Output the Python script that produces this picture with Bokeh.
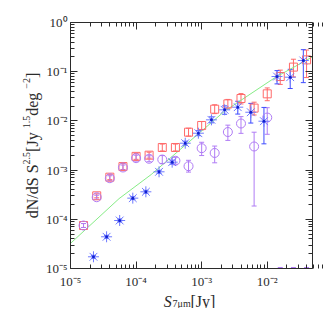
import math
import numpy as np
from bokeh.plotting import figure
from bokeh.models import (LogAxis, FixedTicker, CustomJSTickFormatter, Whisker, TeeHead,
                          ColumnDataSource, Label, Range1d)
from bokeh.embed import file_html
from bokeh.resources import INLINE

# ---------------- data ----------------
red_flux = [1.58e-5, 2.51e-5, 3.98e-5, 6.31e-5, 1.0e-4, 1.58e-4, 2.51e-4, 3.98e-4, 6.31e-4,
            1.0e-3, 1.58e-3, 2.51e-3, 3.98e-3, 6.31e-3, 1.0e-2, 1.58e-2, 2.51e-2, 3.98e-2]
red_val = [7.48e-5, 3.0e-4, 7.18e-4, 1.18e-3, 1.9e-3, 2.01e-3, 2.88e-3, 2.88e-3, 5.9e-3,
           8.07e-3, 1.73e-2, 2.22e-2, 2.85e-2, 1.82e-2, 3.55e-2, 7.98e-2, 0.124, 0.174]
red_up_dex = [0.04, 0.04, 0.05, 0.06, 0.06, 0.06, 0.07, 0.07, 0.08,
              0.08, 0.09, 0.09, 0.10, 0.12, 0.12, 0.13, 0.16, 0.20]
red_dn_dex = [0.04, 0.04, 0.05, 0.06, 0.06, 0.06, 0.07, 0.07, 0.08,
              0.09, 0.09, 0.10, 0.11, 0.14, 0.14, 0.16, 0.20, 0.36]

pur_flux = [1.58e-5, 2.51e-5, 3.98e-5, 6.31e-5, 1.0e-4, 1.58e-4, 2.51e-4, 3.98e-4, 6.31e-4,
            1.0e-3, 1.58e-3, 2.51e-3, 3.98e-3, 6.31e-3, 1.0e-2]
pur_val = [7.48e-5, 2.81e-4, 6.84e-4, 1.13e-3, 1.75e-3, 1.70e-3, 1.64e-3, 1.55e-3, 1.20e-3,
           2.79e-3, 2.23e-3, 5.94e-3, 8.85e-3, 3.02e-3, 1.17e-2]
pur_up_dex = [0.04, 0.04, 0.05, 0.05, 0.06, 0.06, 0.08, 0.07, 0.12,
              0.12, 0.14, 0.14, 0.14, 0.29, 0.20]
pur_dn_dex = [0.04, 0.04, 0.05, 0.05, 0.06, 0.06, 0.08, 0.07, 0.12,
              0.15, 0.20, 0.17, 0.20, 1.21, 0.34]
pur_floor_flux = [1.58e-2, 2.51e-2, 3.98e-2]
pur_floor_val = [1.03e-5, 1.03e-5, 1.03e-5]

blue_flux = [2.24e-5, 3.55e-5, 5.62e-5, 8.91e-5, 1.41e-4, 2.24e-4, 3.55e-4, 5.62e-4, 8.91e-4,
             1.41e-3, 2.24e-3, 3.55e-3, 5.62e-3, 8.91e-3, 1.41e-2, 2.24e-2, 3.55e-2]
blue_val = [1.73e-5, 4.41e-5, 9.46e-5, 2.69e-4, 3.62e-4, 9.23e-4, 1.45e-3, 3.52e-3, 5.62e-3,
            1.05e-2, 1.68e-2, 1.90e-2, 1.50e-2, 9.86e-3, 7.98e-2, 7.73e-2, 0.169]
blue_up_dex = [0.03, 0.03, 0.03, 0.03, 0.03, 0.03, 0.04, 0.04, 0.05,
               0.06, 0.08, 0.12, 0.18, 0.28, 0.12, 0.16, 0.22]
blue_dn_dex = [0.03, 0.03, 0.03, 0.03, 0.03, 0.03, 0.04, 0.04, 0.05,
               0.06, 0.09, 0.14, 0.22, 0.46, 0.15, 0.23, 0.45]

model_flux = [1.0e-5, 5.5e-5, 1.7e-4, 2.24e-3, 1.35e-2, 4.9e-2]
model_val = [3.24e-5, 2.63e-4, 8.13e-4, 1.58e-2, 7.76e-2, 0.20]

x_tick_major = [1e-5, 1e-4, 1e-3, 1e-2, 1e-1]
y_tick_major = [1e-5, 1e-4, 1e-3, 1e-2, 1e-1, 1e0]
XMIN, XMAX = 1e-5, 0.049
YMIN, YMAX = 1e-5, 1.0

RED = "#ff6a6a"
PUR = "#b07cf5"
BLUE = "#3f4cff"
GREEN = "#86ec86"
INK = "#2b2b2b"

# ---------------- geometry: the frame fills the canvas, the axes box sits inside ----------------
W, H = 324, 308
BOX_L, BOX_R, BOX_T, BOX_B = 70, 312, 22, 268
xpd = (BOX_R - BOX_L) / (math.log10(XMAX) - math.log10(XMIN))
ypd = (BOX_B - BOX_T) / (math.log10(YMAX) - math.log10(YMIN))
x_range = Range1d(10 ** (math.log10(XMIN) - BOX_L / xpd), 10 ** (math.log10(XMAX) + (W - BOX_R) / xpd))
y_range = Range1d(10 ** (math.log10(YMIN) - (H - BOX_B) / ypd), 10 ** (math.log10(YMAX) + BOX_T / ypd))

p = figure(frame_width=W, frame_height=H, x_axis_type="log", y_axis_type="log",
           x_range=x_range, y_range=y_range,
           output_backend="svg", toolbar_location=None,
           min_border_left=0, min_border_right=0, min_border_top=0, min_border_bottom=0)
p.grid.visible = False
p.outline_line_color = None
p.background_fill_color = "white"
p.border_fill_color = "white"

def minors(majors):
    return [k * m for m in majors[:-1] for k in range(2, 10)]

sup_fmt = CustomJSTickFormatter(code="""
const sup = {'-':'\u207b','0':'\u2070','1':'\u00b9','2':'\u00b2','3':'\u00b3','4':'\u2074',
             '5':'\u2075','6':'\u2076','7':'\u2077','8':'\u2078','9':'\u2079'};
const e = Math.round(Math.log10(tick));
return '10' + String(e).split('').map(c => sup[c]).join('');
""")
blank_fmt = CustomJSTickFormatter(code="return '';")

def style_axis(ax, majors, labels, bounds, loc):
    ax.ticker = FixedTicker(ticks=majors, minor_ticks=minors(majors))
    ax.bounds = bounds
    ax.fixed_location = loc
    ax.major_tick_in = 7
    ax.major_tick_out = 0
    ax.minor_tick_in = 4
    ax.minor_tick_out = 0
    ax.axis_line_color = INK
    ax.major_tick_line_color = INK
    ax.minor_tick_line_color = INK
    ax.major_label_text_font = "Liberation Serif"
    ax.major_label_text_font_size = "13px"
    ax.major_label_text_color = INK
    if labels:
        ax.formatter = sup_fmt
    else:
        ax.formatter = blank_fmt
        ax.major_label_standoff = 0
        ax.major_label_text_font_size = "0px"

style_axis(p.xaxis[0], x_tick_major, True, (XMIN, XMAX), YMIN)
style_axis(p.yaxis[0], y_tick_major, True, (YMIN, YMAX), XMIN)
p.xaxis[0].major_label_standoff = 5
p.yaxis[0].major_label_standoff = 3

top = LogAxis()
right = LogAxis()
p.add_layout(top, "above")
p.add_layout(right, "right")
style_axis(top, x_tick_major, False, (XMIN, XMAX), YMAX)
style_axis(right, y_tick_major, False, (YMIN, YMAX), XMAX)

# ---------------- marks ----------------
p.line(model_flux, model_val, line_color=GREEN, line_width=1)

def errbars(xs, ys, up, dn, color):
    lo = [y * 10 ** (-d) for y, d in zip(ys, dn)]
    hi = [y * 10 ** (u) for y, u in zip(ys, up)]
    src = ColumnDataSource(dict(x=xs, lo=lo, hi=hi))
    w = Whisker(source=src, base="x", lower="lo", upper="hi", dimension="height",
                line_color=color, line_width=1,
                upper_head=TeeHead(size=5, line_color=color, line_width=1),
                lower_head=TeeHead(size=5, line_color=color, line_width=1))
    p.add_layout(w)

errbars(red_flux, red_val, red_up_dex, red_dn_dex, RED)
errbars(pur_flux, pur_val, pur_up_dex, pur_dn_dex, PUR)
errbars(blue_flux, blue_val, blue_up_dex, blue_dn_dex, BLUE)

p.scatter(red_flux, red_val, marker="square", size=8, fill_color=None,
          line_color=RED, line_width=1)
p.scatter(pur_flux, pur_val, marker="circle", size=9, fill_color=None,
          line_color=PUR, line_width=1)
p.scatter(pur_floor_flux, pur_floor_val, marker="dash", size=5, line_color=PUR, line_width=1.5)
p.scatter(blue_flux, blue_val, marker="asterisk", size=11, line_color="#6f7aff", line_width=1)
p.scatter(blue_flux, blue_val, marker="circle", size=3, fill_color="#1020d0",
          line_color=None)

# ---------------- axis titles (real text with super/subscripts) ----------------
WID = {' ': 0.25, '[': 0.333, ']': 0.333, '/': 0.278, '.': 0.25, 'd': 0.5, 'N': 0.722,
       'S': 0.556, 'J': 0.389, 'y': 0.5, 'e': 0.444, 'g': 0.5, 'm': 0.778, '\u03bc': 0.5,
       '1': 0.5, '2': 0.5, '5': 0.5, '7': 0.5, '\u2212': 0.564}

def tw(s, size):
    return sum(WID.get(c, 0.5) for c in s) * size

def add_run(pieces, x0, y0, vertical):
    pos = 0.0
    for txt, size, shift, fstyle in pieces:
        if vertical:
            lx, ly, ang = x0 - shift, y0 + pos, np.pi / 2
        else:
            lx, ly, ang = x0 + pos, y0 + shift, 0.0
        p.add_layout(Label(x=lx, y=ly, x_units="screen", y_units="screen", text=txt,
                           angle=ang, text_font="Liberation Serif",
                           text_font_size=f"{size}px", text_font_style=fstyle,
                           text_align="left", text_baseline="alphabetic",
                           text_color=INK))
        pos += tw(txt, size)

ylab = [("dN/dS S", 16, 0, "normal"), ("2.5", 10, 6, "normal"), (" [Jy", 16, 0, "normal"),
        ("1.5", 10, 6, "normal"), (" deg", 16, 0, "normal"), ("\u22122", 10, 6, "normal"),
        ("]", 16, 0, "normal")]
xlab = [("S", 16, 0, "italic"), ("7\u03bcm", 10, -2, "normal"), (" [Jy]", 16, 0, "normal")]

ylen = sum(tw(t, s) for t, s, _, _ in ylab)
xlen = sum(tw(t, s) for t, s, _, _ in xlab)
# screen units: from the canvas' lower-left corner (frame == canvas here)
add_run(ylab, 32, (H - (BOX_T + BOX_B) / 2) - ylen / 2, True)
add_run(xlab, (BOX_L + BOX_R) / 2 - xlen / 2, H - 300.5, False)

open("out.html", "w").write(file_html(p, INLINE))
